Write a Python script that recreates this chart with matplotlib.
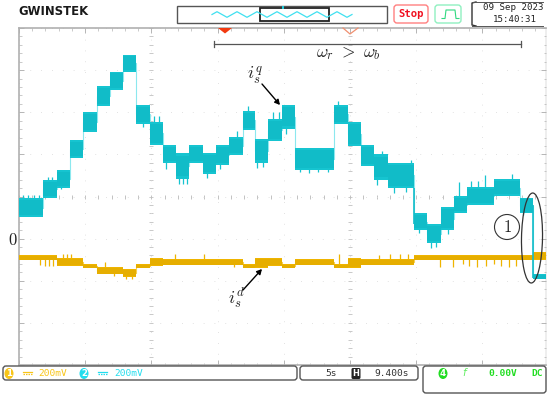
import numpy as np
import matplotlib
matplotlib.use("Agg")
import matplotlib.pyplot as plt
from matplotlib.patches import Ellipse, FancyBboxPatch, Rectangle, Polygon

# time axis in seconds (5 s/div), volts in mV (200 mV/div, 0 = screen centre)
CYAN = "#16c4d0"
CYAN_DARK = "#11bcc8"
AMBER = "#efb400"
AMBER_DARK = "#e6ae00"

q_edges = [0, 1.8, 2.87, 3.85, 4.83, 5.9, 6.87, 7.85, 8.83, 9.9, 10.87, 11.85, 12.83, 13.9,
           14.87, 15.85, 16.9, 17.8, 18.8, 19.85, 20.83, 23.77, 24.83, 25.8, 26.8, 27.85,
           29.8, 30.8, 31.85, 32.83, 33.8, 35.85, 37.8, 38.8, 39.8]
q_top = [-7, 79, 126, 269, 402, 526, 593, 674, 436, 355, 245, 207, 245, 207,
         245, 283, 407, 274, 369, 436, 231, 436, 355, 245, 202, 160,
         -79, -131, -50, 2, 45, 83, -7, -369]
q_bot = [-98, -7, 40, 183, 307, 431, 507, 593, 345, 245, 160, 83, 160, 107,
         150, 198, 317, 160, 264, 321, 126, 345, 240, 145, 79, 40,
         -160, -221, -160, -79, -40, 2, -79, -393]

d_edges = [0, 2.87, 4.83, 5.9, 7.85, 8.83, 9.9, 10.87, 16.9, 17.8, 18.8, 19.85, 20.83,
           23.77, 24.83, 25.8, 29.8, 38.8, 39.8]
d_top = [-279, -293, -321, -336, -345, -321, -293, -298, -321, -293, -293, -321, -298,
         -321, -293, -298, -279, -264]
d_bot = [-302, -331, -340, -369, -383, -340, -331, -326, -340, -340, -331, -340, -326,
         -340, -340, -326, -302, -302]

# noise spikes past the band edge (time, tip value)
q_spike_t = [0.3, 0.7, 1.1, 1.5, 2.2, 2.5, 3.2, 5.5, 6.3, 7.3, 8.2, 8.6, 9.4, 10.2, 10.6,
             11.1, 12.1, 12.4, 12.7, 14.2, 14.6, 15.2, 16.2, 16.5, 17.3, 18.0, 18.4, 19.2,
             19.6, 20.2, 21.2, 21.9, 22.6, 23.3, 24.1, 25.1, 26.1, 27.0, 27.4, 28.3, 29.2,
             29.6, 30.2, 31.1, 31.5, 32.4, 33.2, 34.1, 34.7, 35.2, 36.2, 36.7, 37.2, 38.1]
q_spike_v = [5, 5, 5, 5, 92, 92, 35, 345, 480, 560, 650, 660, 330, 380, 380,
             130, 60, 60, 60, 90, 125, 130, 280, 310, 430, 135, 140, 400, 400, 295,
             115, 110, 115, 115, 455, 340, 220, 55, 215, 15, 20, 175, -175, -245, -240,
             -180, 70, 75, 75, 100, 10, 15, 105, -90]
d_spike_t = [1.6, 2.0, 2.3, 2.6, 3.3, 3.6, 3.9, 6.5, 7.2, 8.1, 8.5, 11.8, 14.0, 16.2,
             24.2, 27.2, 28.0, 28.8, 29.4, 31.8, 32.8, 33.5, 34.0, 34.6, 35.3, 35.9,
             36.4, 37.0, 37.5]
d_spike_v = [-325, -330, -328, -330, -275, -275, -275, -312, -378, -390, -390, -275, -275,
             -335, -275, -280, -275, -275, -275, -333, -333, -322, -330, -333, -330, -322,
             -330, -333, -330]

# the two big falls that read as solid lines on the screen
fall_t = [29.8, 38.8]
fall_top = [40, -40]
fall_bot = [-130, -385]

# small acquisition-window icon at the top, one value per quarter wave
wave_y = [0, 1, 0, -1] * 7 + [0]

fig = plt.figure(figsize=(5.5, 3.96), dpi=100, facecolor="white")
ax = fig.add_axes([19 / 550, 1 - 365 / 396, 527 / 550, 337 / 396])
ax.set_xlim(0, 39.8)
ax.set_ylim(-800, 800)


def band(edges, top, bot, color, core, spike_t, spike_v, link):
    edges = np.array(edges)
    top = np.array(top)
    bot = np.array(bot)
    x = np.repeat(edges, 2)[1:-1]
    # thin light connection between the levels
    ax.plot(x, np.repeat((top + bot) / 2, 2), color=link, lw=0.8, zorder=2)
    ax.fill_between(x, np.repeat(bot, 2), np.repeat(top, 2), color=color, lw=0, zorder=3)
    h = top - bot
    ax.fill_between(x, np.repeat(bot + 0.1 * h, 2), np.repeat(top - 0.1 * h, 2),
                    color=core, lw=0, zorder=3)
    idx = np.searchsorted(edges, spike_t) - 1
    mid = (top[idx] + bot[idx]) / 2
    ax.vlines(spike_t, mid, spike_v, color=color, lw=0.9, zorder=2.5)


band(q_edges, q_top, q_bot, CYAN, CYAN_DARK, q_spike_t, q_spike_v, "#8ce8ee")
band(d_edges, d_top, d_bot, AMBER, AMBER_DARK, d_spike_t, d_spike_v, "#f6cf50")
ax.vlines(fall_t, fall_bot, fall_top, color=CYAN_DARK, lw=1.2, zorder=3.5)

# graticule
ax.set_xticks(np.arange(0, 40, 5))
ax.set_xticks(np.arange(0, 40, 1), minor=True)
ax.set_yticks(np.arange(-800, 801, 200))
ax.set_yticks(np.arange(-800, 801, 40), minor=True)
ax.tick_params(which="major", direction="in", top=True, right=True, length=3.5, width=0.6,
               color="#aaaaaa", labelbottom=False, labelleft=False)
ax.tick_params(which="minor", direction="in", top=True, right=True, length=1.8, width=0.5,
               color="#b5b5b5")
ax.grid(which="major", color="#d8d8d8", lw=0.6, ls=(0, (1, 12)), zorder=0)
for name, spine in ax.spines.items():
    spine.set_color("#b0b0b0")
    spine.set_linewidth(1.2 if name in ("left", "top", "bottom") else 0.3)
ax.plot(np.arange(0, 40, 1), np.zeros(40), ls="", marker="|", ms=2.5, mew=0.6, color="#b8b8b8", zorder=1)
for t in (10, 25):
    ax.plot(np.full(41, t), np.arange(-800, 801, 40), ls="", marker="_", ms=3, mew=0.6,
            color="#c0c0c0", zorder=1)

# everything else is placed in image pixels on a transparent overlay
ov = fig.add_axes([0, 0, 1, 1], facecolor="none")
ov.set_xlim(0, 550)
ov.set_ylim(396, 0)
ov.axis("off")
MONO = "DejaVu Sans Mono"


def rbox(x0, y0, x1, y1, ec, lw=1.0, r=3, fc="white"):
    ov.add_patch(FancyBboxPatch((x0 + r, y0 + r), x1 - x0 - 2 * r, y1 - y0 - 2 * r,
                                boxstyle=f"round,pad={r},rounding_size={r}",
                                ec=ec, fc=fc, lw=lw))


ov.text(18, 11.5, "GWINSTEK", fontsize=8.4, fontweight="bold", color="#1a1a1a",
        family="DejaVu Sans", va="center", ha="left")

# window icon
ov.add_patch(Rectangle((177, 5.5), 210, 17.5, fc="white", ec="#555555", lw=1))
ov.plot(np.linspace(212, 352, len(wave_y)), 14.5 - 2.8 * np.array(wave_y), color="#40e0f0", lw=0.9)
ov.add_patch(Rectangle((260, 7.5), 69, 13, fc="none", ec="#222222", lw=1.3))
ov.add_patch(Rectangle((281.5, 5.5), 2.5, 3.5, fc="#20c8d8", ec="none"))

rbox(394, 5, 428, 23, "#ff8080", lw=1)
ov.text(411, 14, "Stop", color="#f01020", fontsize=7.6, fontweight="bold", family=MONO,
        ha="center", va="center")
rbox(435, 5, 461, 23, "#90f0c0", lw=1)
ov.plot([442, 445, 446, 455, 456, 459], [18.5, 18.5, 10, 10, 18.5, 18.5], color="#30d880", lw=0.8)

# date box, only corners and sides
ov.plot([476, 472, 472, 476], [2, 3, 25, 26], color="#333333", lw=1)
ov.plot([472, 543], [2, 2], color="#555555", lw=0.7)
ov.plot([472, 543], [26, 26], color="#555555", lw=0.7)
ov.text(513, 8, "09 Sep 2023", fontsize=6.6, family=MONO, ha="center", va="center", color="#222222")
ov.text(515, 19.5, "15:40:31", fontsize=6.6, family=MONO, ha="center", va="center", color="#222222")

# trigger markers
ov.add_patch(Polygon([(218, 28), (232, 28), (225, 33.5)], fc="#f23a10", ec="none"))
ov.plot([343, 350, 358], [28, 34, 28], color="#f09070", lw=0.9)

# annotations
ov.plot([214, 521], [44, 44], color="#555555", lw=0.9)
ov.plot([214, 214], [41, 47], color="#555555", lw=0.9)
ov.plot([521, 521], [41, 47], color="#555555", lw=0.9)
mt = dict(math_fontfamily="cm", color="#222222", ha="center", va="center")
ov.text(348, 52.5, r"$\omega_r\ >\ \omega_b$", fontsize=12.5, **mt)
ov.text(255, 75, r"$i_s^q$", fontsize=13, **mt)
ov.text(236, 298, r"$i_s^d$", fontsize=13, **mt)
ov.text(13, 240, r"$0$", fontsize=12, **mt)
ov.annotate("", xy=(280, 105), xytext=(262, 84),
            arrowprops=dict(arrowstyle="-|>,head_width=0.16,head_length=0.3", color="black", lw=1, shrinkA=0, shrinkB=0))
ov.annotate("", xy=(262, 269), xytext=(243, 290),
            arrowprops=dict(arrowstyle="-|>,head_width=0.16,head_length=0.3", color="black", lw=1, shrinkA=0, shrinkB=0))
ov.add_patch(Ellipse((507, 227), 25, 25, fc="none", ec="#333333", lw=0.8))
ov.text(507, 227, r"$1$", fontsize=12, **mt)
ov.add_patch(Ellipse((532, 238), 21, 90, angle=1, fc="none", ec="#333333", lw=0.9))

# status bar
rbox(3, 366, 297, 380, "#555555", lw=1)
rbox(300, 366, 418, 380, "#555555", lw=1)
rbox(423, 366, 546, 393, "#555555", lw=1)


def badge(x, text, color):
    ov.add_patch(Ellipse((x, 373.5), 9, 11, fc=color, ec="none"))
    ov.text(x, 373.5, text, color="white", fontsize=6.2, fontweight="bold", ha="center", va="center")


badge(9, "1", "#f8c518")
ov.plot([23, 32], [371.5, 371.5], color="#f8c518", lw=0.9)
ov.plot([23, 32], [374, 374], color="#f8c518", lw=0.9, ls=(0, (1.2, 0.8)))
ov.text(53, 373, "200mV", color="#f8c518", fontsize=6.8, family=MONO, ha="center", va="center")
badge(84, "2", "#22ddee")
ov.plot([98, 107], [371.5, 371.5], color="#22ddee", lw=0.9)
ov.plot([98, 107], [374, 374], color="#22ddee", lw=0.9, ls=(0, (1.2, 0.8)))
ov.text(128.5, 373, "200mV", color="#22ddee", fontsize=6.8, family=MONO, ha="center", va="center")

ov.text(331, 373, "5s", fontsize=6.8, family=MONO, ha="center", va="center", color="#333333")
ov.add_patch(FancyBboxPatch((353, 369.5), 6, 8, boxstyle="round,pad=1.5", fc="#222222", ec="none"))
ov.text(356, 373.5, "H", fontsize=6, color="white", fontweight="bold", ha="center", va="center")
ov.text(392, 373, "9.400s", fontsize=6.8, family=MONO, ha="center", va="center", color="#333333")

badge(443, "4", "#22dd22")
ov.text(464, 373.5, "f", color="#66ee66", fontsize=7.5, style="italic", ha="center", va="center")
ov.text(503, 373, "0.00V", color="#22dd22", fontsize=6.8, fontweight="bold", family=MONO, ha="center", va="center")
ov.text(537, 373, "DC", color="#22dd22", fontsize=6.8, fontweight="bold", family=MONO, ha="center", va="center")

fig.savefig("out.png", dpi=100)
